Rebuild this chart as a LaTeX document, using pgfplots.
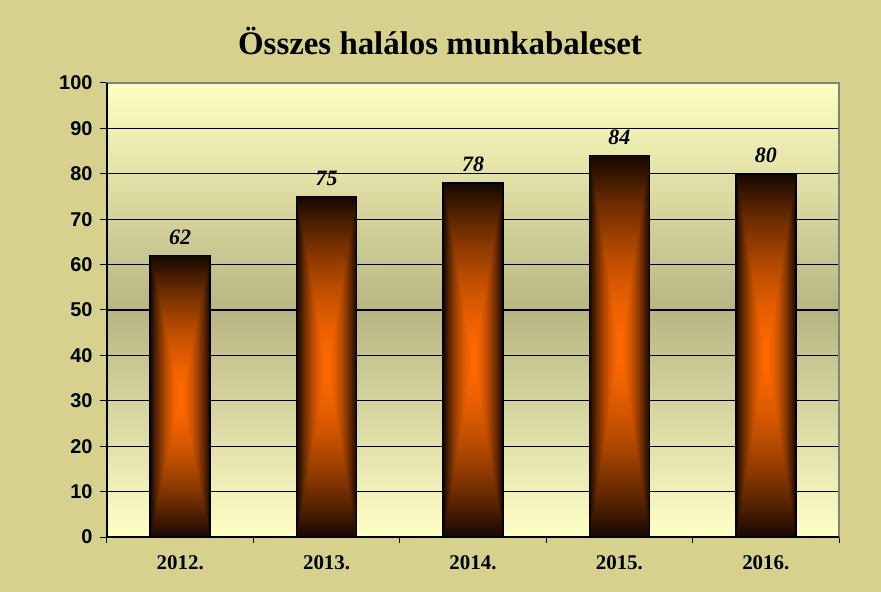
\documentclass[border=0pt]{standalone}
\usepackage{fontspec}
\setmainfont{Liberation Serif}
\newfontfamily\arialfont{Liberation Sans}
\usepackage{pgfplots}
\pgfplotsset{compat=1.18}
\definecolor{outerbg}{RGB}{214,210,142}
\definecolor{plottop}{RGB}{255,255,192}
\definecolor{plotmid}{RGB}{184,181,130}
\definecolor{plotbot}{RGB}{255,255,198}
\pgfdeclarefunctionalshading{barshade}{\pgfpoint{0bp}{0bp}}{\pgfpoint{100bp}{100bp}}{}{
50 sub abs exch 50 sub abs 2 copy lt {exch} if pop 25 div
dup 1 gt {pop 1} if
1.6 exp
dup 0.92 mul 1 exch sub exch 0.38 mul 0.41 exch sub 0
}
\pgfplotsset{barstyle/.style={draw=black, line width=1.5bp, shade, shading=barshade, bar shift=0pt}}
\begin{document}
\begin{tikzpicture}
\fill[outerbg] (-107bp,-55bp) rectangle (774bp,537bp);
\shade[top color=plottop, bottom color=plotbot, middle color=plotmid] (0bp,0bp) rectangle (732bp,454bp);
\begin{axis}[
  width=732bp, height=454bp, scale only axis,
  xmin=-0.5, xmax=4.5, ymin=0, ymax=100,
  ytick={0,10,...,100},
  xtick={0,1,2,3,4},
  xticklabels={2012.,2013.,2014.,2015.,2016.},
  minor xtick={-0.5,0.5,1.5,2.5,3.5,4.5},
  major x tick style={draw=none},
  tick pos=left,
  tick align=outside,
  major tick length=7bp, minor tick length=6bp,
  tick style={black, line width=1bp},
  ymajorgrids,
  grid style={black, line width=1.2bp},
  axis line style={draw=gray, line width=1.5bp},
  ybar, bar width=0.41,
  nodes near coords,
  every node near coord/.append style={font=\bfseries\itshape\fontsize{22}{22}\selectfont, black, yshift=7bp},
  /pgf/number format/assume math mode=true,
  yticklabel style={font=\arialfont\bfseries\fontsize{20}{20}\selectfont, black, xshift=-4bp},
  xticklabel style={font=\bfseries\fontsize{21}{21}\selectfont, black, yshift=-8bp},
  title={Összes halálos munkabaleset},
  title style={font=\bfseries\fontsize{33}{33}\selectfont, at={(rel axis cs:0.5,1)}, anchor=base, xshift=-33bp, yshift=23bp},
  after end axis/.code={
    \draw[black, line width=1.5bp] (rel axis cs:0,1) -- (rel axis cs:0,0) -- (rel axis cs:1,0);
  },
]
\addplot[barstyle] coordinates {(0,62)};
\addplot[barstyle] coordinates {(1,75)};
\addplot[barstyle] coordinates {(2,78)};
\addplot[barstyle] coordinates {(3,84)};
\addplot[barstyle] coordinates {(4,80)};
\end{axis}
\end{tikzpicture}
\end{document}
